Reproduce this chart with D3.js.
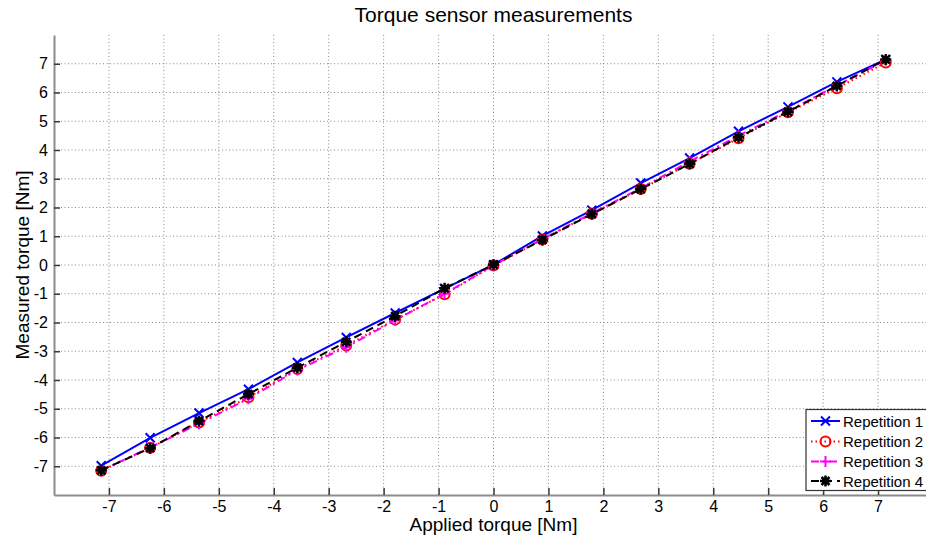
<!DOCTYPE html>
<html><head><meta charset="utf-8">
<script src="https://cdn.jsdelivr.net/npm/d3@7"></script>
<style>body{margin:0;background:#fff}svg{display:block}text{font-family:"Liberation Sans",Arial,sans-serif;fill:#000}</style>
</head><body><svg id="c" width="926" height="537"></svg>
<script>
const applied = [-7.14,-6.25,-5.36,-4.46,-3.57,-2.68,-1.79,-0.89,0,0.89,1.79,2.68,3.57,4.46,5.36,6.25,7.14];
const rep1 = [-6.98,-6.01,-5.15,-4.32,-3.39,-2.52,-1.67,-0.82,0.01,1.01,1.91,2.85,3.72,4.65,5.50,6.37,7.15];
const rep2 = [-7.16,-6.36,-5.48,-4.60,-3.62,-2.80,-1.90,-1.02,-0.02,0.89,1.78,2.64,3.52,4.41,5.31,6.15,7.04];
const rep3 = [-7.14,-6.35,-5.52,-4.65,-3.65,-2.86,-1.92,-1.00,-0.01,0.90,1.80,2.67,3.60,4.50,5.36,6.24,7.12];
const rep4 = [-7.14,-6.37,-5.43,-4.49,-3.57,-2.67,-1.78,-0.81,0.01,0.87,1.77,2.64,3.52,4.44,5.33,6.23,7.15];
const seriesNames = ["Repetition 1","Repetition 2","Repetition 3","Repetition 4"];
const xTicks = [-7,-6,-5,-4,-3,-2,-1,0,1,2,3,4,5,6,7];
const yTicks = [-7,-6,-5,-4,-3,-2,-1,0,1,2,3,4,5,6,7];
const titleText = "Torque sensor measurements";
const xLabel = "Applied torque [Nm]";
const yLabel = "Measured torque [Nm]";

const svg = d3.select("#c");
const L = 54, R = 933, T = 35, B = 495;
const x = d3.scaleLinear().domain([-8,8]).range([L,R]);
const y = d3.scaleLinear().domain([-8,8]).range([B,T]);

// grid
const g = svg.append("g");
g.selectAll(".vg").data(xTicks).join("line")
  .attr("x1",d=>x(d)).attr("x2",d=>x(d)).attr("y1",T).attr("y2",B)
  .attr("stroke","#8a8a8a").attr("stroke-width",1).attr("stroke-dasharray","1,2.5");
g.selectAll(".hg").data(yTicks).join("line")
  .attr("x1",L).attr("x2",R).attr("y1",d=>y(d)).attr("y2",d=>y(d))
  .attr("stroke","#8a8a8a").attr("stroke-width",1).attr("stroke-dasharray","1,2.5");

// axes
const xAxis = d3.axisBottom(x).tickValues(xTicks).tickSizeInner(-7).tickSizeOuter(0).tickPadding(6);
const yAxis = d3.axisLeft(y).tickValues(yTicks).tickSizeInner(-6).tickSizeOuter(0).tickPadding(6);
const gx = svg.append("g").attr("transform",`translate(0,${B})`).call(xAxis);
const gy = svg.append("g").attr("transform",`translate(${L},0)`).call(yAxis);
[gx,gy].forEach(a=>{
  a.select(".domain").attr("stroke","#8c8c8c").attr("stroke-width",2);
  a.selectAll(".tick line").attr("stroke","#3a3a3a").attr("stroke-width",1.5);
  a.selectAll(".tick text").attr("font-size",16).attr("fill","#000")
   .style("font-family","'Liberation Sans',Arial,sans-serif");
});
gx.selectAll(".tick text").text(d=>d<0?"-"+(-d):d);
gy.selectAll(".tick text").text(d=>d<0?"-"+(-d):d);

// series
const data = [rep1,rep2,rep3,rep4];
const colors = ["#0000ff","#ff0000","#ff00ff","#000000"];
const dashes = [null,"1.5,3","8,4,2,4","8,5"];
const markers = ["x","o","+","*"];
const line = d3.line().x(d=>x(d[0])).y(d=>y(d[1]));

function marker(sel, type, color){
  const s = 4.5;
  if(type==="x"){
    sel.append("path").attr("d",`M${-s},${-s}L${s},${s}M${-s},${s}L${s},${-s}`)
      .attr("stroke",color).attr("stroke-width",2).attr("fill","none");
  } else if(type==="o"){
    sel.append("circle").attr("r",5).attr("stroke",color).attr("stroke-width",2).attr("fill","none");
  } else if(type==="+"){
    const t=5.5;
    sel.append("path").attr("d",`M${-t},0L${t},0M0,${-t}L0,${t}`)
      .attr("stroke",color).attr("stroke-width",2).attr("fill","none");
  } else {
    const t=5.5, u=4;
    sel.append("path").attr("d",`M${-t},0L${t},0M0,${-t}L0,${t}M${-u},${-u}L${u},${u}M${-u},${u}L${u},${-u}`)
      .attr("stroke",color).attr("stroke-width",2.5).attr("fill","none");
    sel.append("circle").attr("r",3.5).attr("fill",color);
  }
}

data.forEach((vals,i)=>{
  const pts = applied.map((a,j)=>[a,vals[j]]);
  svg.append("path").attr("d",line(pts)).attr("fill","none")
    .attr("stroke",colors[i]).attr("stroke-width",2)
    .attr("stroke-dasharray",dashes[i]);
  svg.append("g").selectAll("g").data(pts).join("g")
    .attr("transform",d=>`translate(${x(d[0])},${y(d[1])})`)
    .each(function(){ marker(d3.select(this),markers[i],colors[i]); });
});

// title & labels
svg.append("text").attr("x",x(0)).attr("y",22).attr("text-anchor","middle")
  .attr("font-size",21).text(titleText);
svg.append("text").attr("x",x(0)).attr("y",531).attr("text-anchor","middle")
  .attr("font-size",19).text(xLabel);
svg.append("text").attr("transform",`translate(29,${y(0)}) rotate(-90)`).attr("text-anchor","middle")
  .attr("font-size",19).text(yLabel);

// legend
const lg = svg.append("g");
lg.append("rect").attr("x",806).attr("y",409.5).attr("width",130).attr("height",81)
  .attr("fill","#fff").attr("stroke","#333").attr("stroke-width",1.2);
const rows = [421,441.5,461.5,481];
seriesNames.forEach((nm,i)=>{
  const r = lg.append("g").attr("transform",`translate(0,${rows[i]})`);
  r.append("line").attr("x1",811).attr("x2",840).attr("y1",0).attr("y2",0)
    .attr("stroke",colors[i]).attr("stroke-width",2).attr("stroke-dasharray",dashes[i]);
  marker(r.append("g").attr("transform","translate(825.5,0)"),markers[i],colors[i]);
  r.append("text").attr("x",843).attr("y",5.5).attr("font-size",15).text(nm);
});
</script></body></html>
